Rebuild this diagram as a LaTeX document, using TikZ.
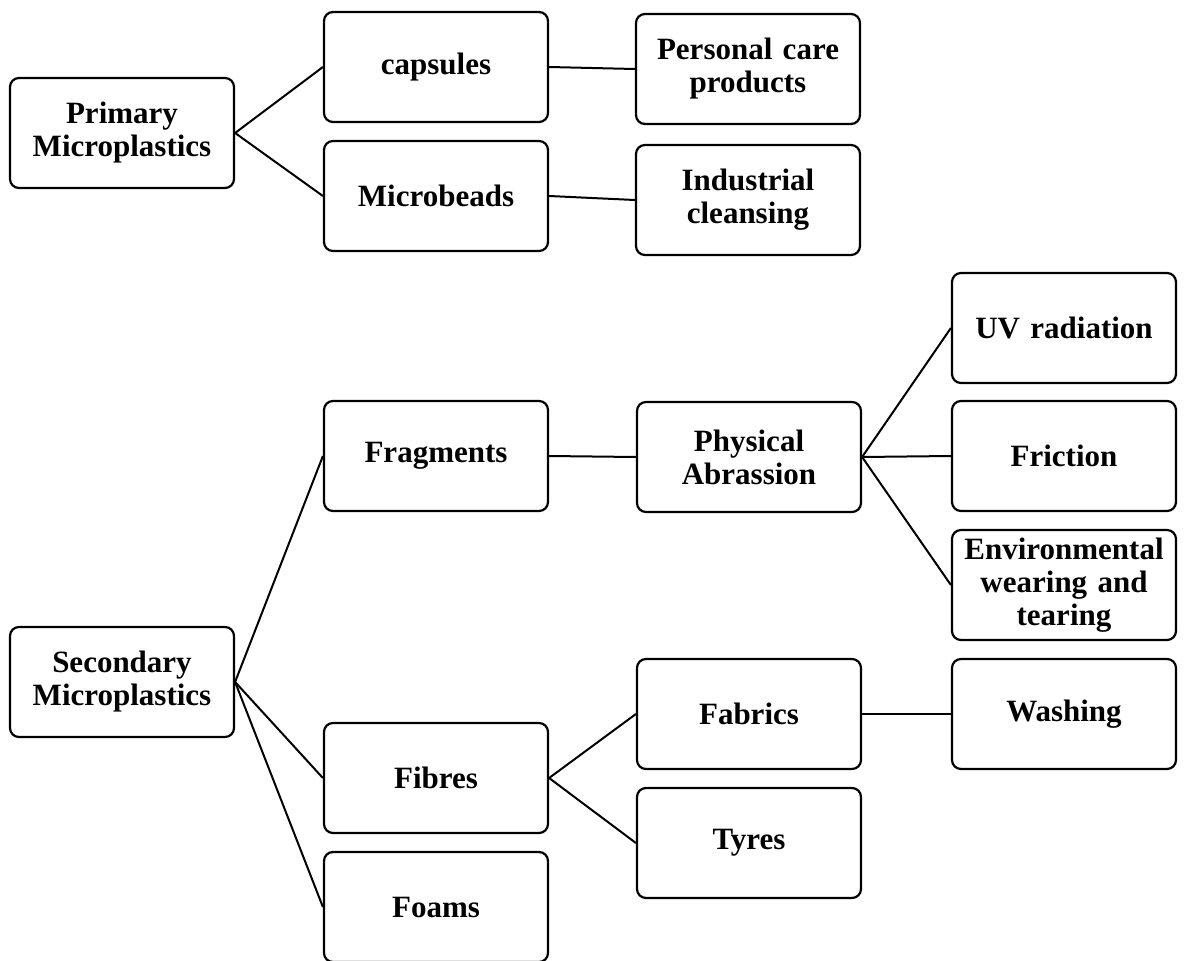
\documentclass[tikz,border=0pt]{standalone}
\usepackage{fontspec}
\setmainfont{Liberation Serif}
\begin{document}
\begin{tikzpicture}[x=1pt,y=-1pt,
  box/.style={draw,line width=2.2pt,rounded corners=9pt,minimum width=224pt,minimum height=110pt,
    text width=215pt,align=center,inner sep=0pt,font=\fontsize{31}{33}\selectfont\bfseries},
  link/.style={line width=2pt}]
\useasboundingbox (0,0) rectangle (1200,961);
\node[box] (p1) at (122,133) {Primary\\Microplastics};
\node[box] (cap) at (436,67) {capsules};
\node[box] (mb) at (436,196) {Microbeads};
\node[box] (pc) at (748,69) {Personal care\\products};
\node[box] (ic) at (748,200) {Industrial\\cleansing};
\node[box] (uv) at (1064,328) {UV radiation};
\node[box] (fr) at (1064,456) {Friction};
\node[box] (env) at (1064,585) {Environmental\\wearing and\\tearing};
\node[box] (frag) at (436,456) {Fragments};
\node[box] (phys) at (749,457) {Physical\\Abrassion};
\node[box] (sec) at (122,682) {Secondary\\Microplastics};
\node[box] (fab) at (749,714) {Fabrics};
\node[box] (wash) at (1064,714) {Washing};
\node[box] (fib) at (436,778) {Fibres};
\node[box] (tyr) at (749,843) {Tyres};
\node[box] (foam) at (436,907) {Foams};
\draw[link] (p1.east) -- (cap.west);
\draw[link] (p1.east) -- (mb.west);
\draw[link] (cap.east) -- (pc.west);
\draw[link] (mb.east) -- (ic.west);
\draw[link] (sec.east) -- (frag.west);
\draw[link] (sec.east) -- (fib.west);
\draw[link] (sec.east) -- (foam.west);
\draw[link] (frag.east) -- (phys.west);
\draw[link] (phys.east) -- (uv.west);
\draw[link] (phys.east) -- (fr.west);
\draw[link] (phys.east) -- (env.west);
\draw[link] (fib.east) -- (fab.west);
\draw[link] (fib.east) -- (tyr.west);
\draw[link] (fab.east) -- (wash.west);
\end{tikzpicture}
\end{document}
